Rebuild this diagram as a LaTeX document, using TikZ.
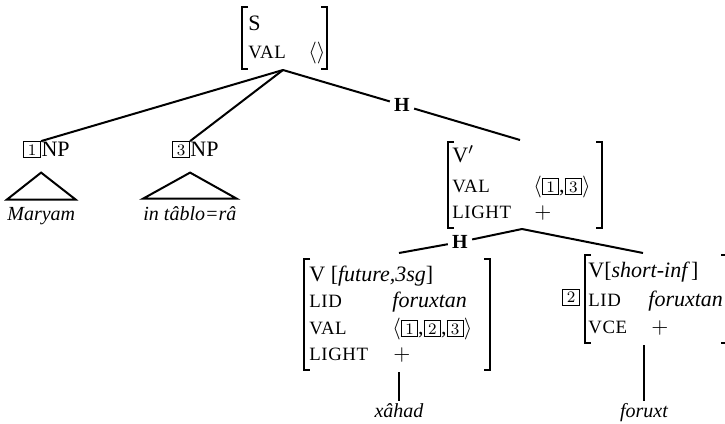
\documentclass[tikz,border=0pt]{standalone}
\usepackage{fontspec}
\setmainfont{Liberation Serif}
\usetikzlibrary{positioning}
\newcommand{\smc}[1]{{\fontsize{9.4}{9.4}\selectfont\addfontfeature{LetterSpace=3}#1}}
\newcommand{\tagbox}[1]{{\setlength{\fboxsep}{1.2pt}\setlength{\fboxrule}{0.4pt}\fbox{\kern0.6pt\fontsize{8}{8}\selectfont$#1$\kern0.6pt}}}
% left, right, top, bottom
\newcommand{\avmbrackets}[4]{%
  \draw[brk] (#1+6,#3) -| (#1,#4) -- (#1+6,#4);
  \draw[brk] (#2-6,#3) -| (#2,#4) -- (#2-6,#4);
}
\tikzset{
  feat/.style={anchor=base west,inner sep=0pt},
  tag/.style={anchor=base west,inner sep=0pt},
  leaf/.style={anchor=base west,font=\itshape,inner xsep=0pt,inner ysep=3.5pt},
  hlabel/.style={font=\bfseries,inner sep=2pt},
  branch/.style={line width=1pt},
  brk/.style={line width=0.6pt}
}
\begin{document}
\begin{tikzpicture}[x=0.5pt,y=-0.5pt,font=\fontsize{11}{13}\selectfont]
  \useasboundingbox (0,0) rectangle (725,424);
  \clip (0,0) rectangle (725,424);
  % ---------- S ----------
  \node[feat] (s-cat) at (248,30) {S};
  \node[feat] (s-val) at (248,58) {\smc{VAL}};
  \node[feat] at (308,58) {$\langle\rangle$};
  \avmbrackets{242}{327}{7}{69}
  \coordinate (s-foot) at (283,70);
  % ---------- NPs ----------
  \node[tag] (tag1) at (23,155) {\tagbox{1}};
  \node[feat] (np1) at ([yshift=-0.5pt]tag1.base east) {NP};
  \node[tag] (tag3) at (172,155) {\tagbox{3}};
  \node[feat] (np3) at ([yshift=-0.5pt]tag3.base east) {NP};
  \node[leaf] (maryam) at (7,220) {Maryam};
  \node[leaf] (tablo) at (143,220) {in tâblo=râ};
  \draw[branch] ([yshift=-7pt]tag1.south east) -- (maryam.north west) -- (maryam.north east) -- cycle;
  \draw[branch] ([yshift=-7pt]tag3.south east) -- (tablo.north west) -- (tablo.north east) -- cycle;
  \draw[branch] (s-foot) -- (tag1.north east);
  \draw[branch] (s-foot) -- (tag3.north east);
  % ---------- head daughter V' ----------
  \coordinate (vp-head) at (520,140);
  \node[hlabel] (h1) at (402,105) {H};
  \draw[branch] (s-foot) -- (h1) -- (vp-head);
  \node[feat] (vp-cat) at (452,162) {V$'$};
  \node[feat] (vp-val) at (452,192) {\smc{VAL}};
  \node[feat] at (533,192) {$\langle$\tagbox{1},\tagbox{3}$\rangle$};
  \node[feat] (vp-light) at (452,218) {\smc{LIGHT}};
  \node[feat] at (534,218) {$+$};
  \avmbrackets{448}{602}{142}{228}
  \coordinate (vp-foot) at (522,229);
  % ---------- V' daughters ----------
  \coordinate (vf-head) at (399,253);
  \coordinate (vs-head) at (643,253);
  \node[hlabel] (h2) at (460,242) {H};
  \draw[branch] (vp-foot) -- (h2) -- (vf-head);
  \draw[branch] (vp-foot) -- (vs-head);
  % V [future,3sg]
  \node[feat] (vf-cat) at (309,281) {V [\textit{future,3sg}]};
  \node[feat] (vf-lid) at (309,307) {\smc{LID}};
  \node[feat] at (392,307) {\textit{foruxtan}};
  \node[feat] (vf-val) at (309,334) {\smc{VAL}};
  \node[feat] at (392,334) {$\langle$\tagbox{1},\tagbox{2},\tagbox{3}$\rangle$};
  \node[feat] (vf-light) at (309,360) {\smc{LIGHT}};
  \node[feat] at (393,360) {$+$};
  \avmbrackets{304}{490}{259}{370}
  \coordinate (vf-foot) at (399,372);
  \node[leaf,anchor=base,inner ysep=1pt] (xahad) at (399,417) {xâhad};
  \draw[branch] (vf-foot) -- (xahad);
  % V[short-inf]
  \node[feat] (vs-cat) at (588,277) {V[\textit{short-inf\,}]};
  \node[feat] (vs-lid) at (588,306) {\smc{LID}};
  \node[feat] at (648,306) {\textit{foruxtan}};
  \node[feat] (vs-vce) at (588,333) {\smc{VCE}};
  \node[feat] at (651,333) {$+$};
  \node[tag,anchor=center] (tag2) at (571,297) {\tagbox{2}};
  \avmbrackets{585}{727}{255}{343}
  \coordinate (vs-foot) at (644,345);
  \node[leaf,anchor=base,inner ysep=1pt] (foruxt) at (644,417) {foruxt};
  \draw[branch] (vs-foot) -- (foruxt);
\end{tikzpicture}
\end{document}
